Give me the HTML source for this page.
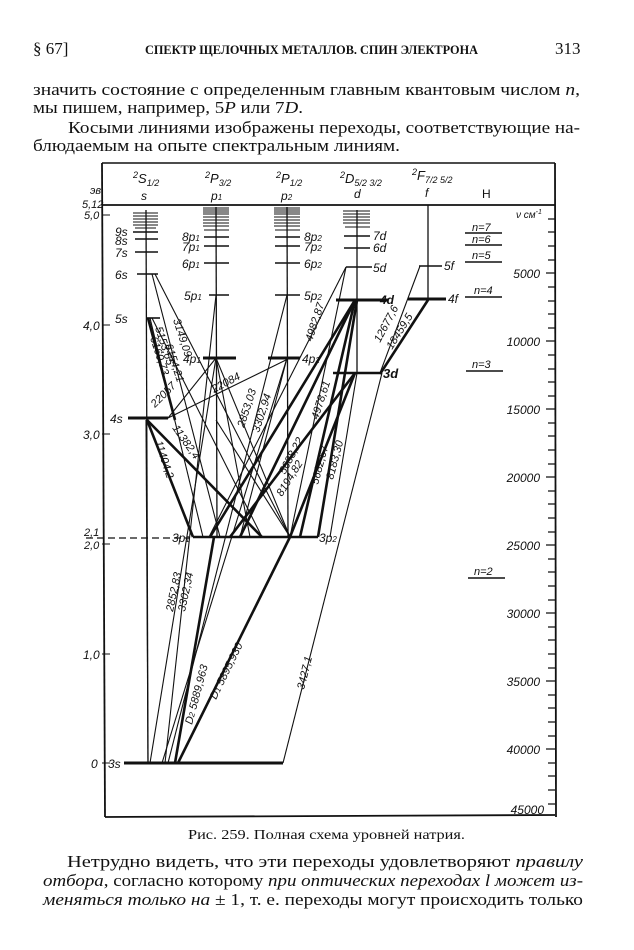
<!DOCTYPE html>
<html><head><meta charset="utf-8"><style>
html,body{margin:0;padding:0;background:#fff}
svg{display:block}
.t{font-family:"Liberation Serif",serif;fill:#111}
.d{font-family:"Liberation Sans",sans-serif;font-style:italic;fill:#111}
</style></head><body>
<svg width="634" height="950" viewBox="0 0 634 950" xmlns="http://www.w3.org/2000/svg">
<!-- page text -->
<text class="t" x="33" y="54" font-size="17">§ 67]</text>
<text class="t" x="145" y="54" font-size="12.5" font-weight="bold" textLength="333" lengthAdjust="spacingAndGlyphs">СПЕКТР ЩЕЛОЧНЫХ МЕТАЛЛОВ. СПИН ЭЛЕКТРОНА</text>
<text class="t" x="555" y="54" font-size="17">313</text>
<text class="t" x="33" y="95" font-size="17" textLength="547" lengthAdjust="spacingAndGlyphs">значить состояние с определенным главным квантовым числом <tspan font-style="italic">n</tspan>,</text>
<text class="t" x="33" y="113" font-size="17" textLength="270" lengthAdjust="spacingAndGlyphs">мы пишем, например, 5<tspan font-style="italic">P</tspan> или 7<tspan font-style="italic">D</tspan>.</text>
<text class="t" x="68" y="133" font-size="17" textLength="512" lengthAdjust="spacingAndGlyphs">Косыми линиями изображены переходы, соответствующие на-</text>
<text class="t" x="33" y="151" font-size="17" textLength="367" lengthAdjust="spacingAndGlyphs">блюдаемым на опыте спектральным линиям.</text>

<text class="t" x="188" y="839" font-size="13.5" textLength="277" lengthAdjust="spacingAndGlyphs">Рис. 259. Полная схема уровней натрия.</text>
<text class="t" x="67" y="867" font-size="17" textLength="516" lengthAdjust="spacingAndGlyphs">Нетрудно видеть, что эти переходы удовлетворяют <tspan font-style="italic">правилу</tspan></text>
<text class="t" x="43" y="886" font-size="17" textLength="540" lengthAdjust="spacingAndGlyphs"><tspan font-style="italic">отбора</tspan>, согласно которому <tspan font-style="italic">при оптических переходах l может из-</tspan></text>
<text class="t" x="43" y="905" font-size="17" textLength="540" lengthAdjust="spacingAndGlyphs"><tspan font-style="italic">меняться только на</tspan> ± 1, т. е. переходы могут происходить только</text>

<!-- frame -->
<g stroke="#111" fill="none">
<line x1="102" y1="163" x2="555" y2="163" stroke-width="1.5"/>
<line x1="102" y1="163" x2="105" y2="817" stroke-width="1.8"/>
<line x1="102" y1="205" x2="555" y2="205" stroke-width="1.8"/>
<line x1="105" y1="817" x2="555" y2="815" stroke-width="1.8"/>
<line x1="555" y1="163" x2="556" y2="817" stroke-width="1.8"/>
<line x1="102" y1="215" x2="110" y2="215"/>
<line x1="102" y1="325" x2="110" y2="325"/>
<line x1="102" y1="434" x2="110" y2="434"/>
<line x1="102" y1="544" x2="110" y2="544"/>
<line x1="102" y1="654" x2="110" y2="654"/>
<line x1="102" y1="763" x2="110" y2="763"/>
<line x1="86" y1="538" x2="190" y2="538" stroke-dasharray="7,4" stroke-width="1.3"/>
</g>
<g class="d" font-size="12">
<text x="90" y="194" font-size="11">эв</text>
<text x="82" y="208" font-size="11">5,12</text>
<text x="84" y="219" font-size="11">5,0</text>
<text x="83" y="330">4,0</text>
<text x="83" y="439">3,0</text>
<text x="84" y="536" font-size="11">2,1</text>
<text x="84" y="549" font-size="11">2,0</text>
<text x="83" y="659">1,0</text>
<text x="91" y="768">0</text>
</g>
<!-- column headers -->
<g class="d" font-size="13">
<text x="133" y="183"><tspan font-size="9" dy="-5">2</tspan><tspan dy="5">S</tspan><tspan font-size="9" dy="3">1/2</tspan></text>
<text x="141" y="200" font-size="12">s</text>
<text x="205" y="183"><tspan font-size="9" dy="-5">2</tspan><tspan dy="5">P</tspan><tspan font-size="9" dy="3">3/2</tspan></text>
<text x="211" y="200" font-size="12">p<tspan font-size="8">1</tspan></text>
<text x="276" y="183"><tspan font-size="9" dy="-5">2</tspan><tspan dy="5">P</tspan><tspan font-size="9" dy="3">1/2</tspan></text>
<text x="281" y="200" font-size="12">p<tspan font-size="8">2</tspan></text>
<text x="340" y="183"><tspan font-size="9" dy="-5">2</tspan><tspan dy="5">D</tspan><tspan font-size="9" dy="3">5/2 3/2</tspan></text>
<text x="354" y="198" font-size="12">d</text>
<text x="412" y="180"><tspan font-size="9" dy="-5">2</tspan><tspan dy="5">F</tspan><tspan font-size="9" dy="3">7/2 5/2</tspan></text>
<text x="425" y="197" font-size="12">f</text>
<text x="482" y="198" font-size="12" font-style="normal">H</text>
</g>

<g stroke="#111" fill="none" stroke-width="1.3">
<line x1="146" y1="210" x2="148" y2="763"/>
<line x1="216" y1="207" x2="217" y2="537"/>
<line x1="287" y1="207" x2="288" y2="537"/>
<line x1="357" y1="210" x2="357" y2="373"/>
<line x1="428" y1="205" x2="428" y2="299"/>
</g>
<g stroke="#111" stroke-width="1.1">
<path d="M133 213H158M133 216H158M133 219H158M133 222H158M133 225H158M135 228H156"/>
<path d="M203 208H229M203 210H229M203 212H229M203 214H229M203 217H229M203 220H229M203 223H229M203 226H229M204 230H229"/>
<path d="M274 208H300M274 210H300M274 212H300M274 214H300M274 217H300M274 220H300M274 223H300M274 226H300M275 230H300"/>
<path d="M343 211H370M343 214H370M343 217H370M343 220H370M343 223H370M345 227H370"/>
</g>
<g stroke="#111" stroke-width="1.6" fill="none">
<line x1="133" y1="232" x2="158" y2="232"/>
<line x1="135" y1="239" x2="158" y2="239"/>
<line x1="135" y1="252" x2="158" y2="252"/>
<line x1="137" y1="274" x2="158" y2="274"/>
<line x1="146" y1="318" x2="160" y2="318"/>
<line x1="204" y1="237" x2="229" y2="237"/>
<line x1="204" y1="246" x2="229" y2="246"/>
<line x1="204" y1="263" x2="229" y2="263"/>
<line x1="209" y1="295" x2="229" y2="295"/>
<line x1="275" y1="237" x2="300" y2="237"/>
<line x1="275" y1="246" x2="300" y2="246"/>
<line x1="275" y1="263" x2="300" y2="263"/>
<line x1="275" y1="295" x2="300" y2="295"/>
<line x1="344" y1="236" x2="370" y2="236"/>
<line x1="344" y1="248" x2="370" y2="248"/>
<line x1="346" y1="267" x2="372" y2="267"/>
<line x1="419" y1="266" x2="442" y2="266"/>
</g>
<g stroke="#111" stroke-width="3" fill="none">
<line x1="128" y1="418" x2="168" y2="418"/>
<line x1="203" y1="358" x2="236" y2="358"/>
<line x1="268" y1="358" x2="300" y2="358"/>
<line x1="336" y1="300" x2="388" y2="300"/>
<line x1="408" y1="299" x2="446" y2="299"/>
<line x1="333" y1="373" x2="381" y2="373" stroke-width="2.4"/>
<line x1="124" y1="763" x2="283" y2="763"/>
<line x1="193" y1="537" x2="318" y2="537" stroke-width="2.6"/>
</g>
<g stroke="#111" stroke-width="1.1" fill="none">
<line x1="150" y1="318" x2="203" y2="537"/>
<line x1="152" y1="318" x2="262" y2="537"/>
<line x1="152" y1="274" x2="220" y2="537"/>
<line x1="155" y1="274" x2="290" y2="537"/>
<line x1="168" y1="418" x2="216" y2="358"/>
<line x1="168" y1="418" x2="290" y2="358"/>
<line x1="148" y1="763" x2="146" y2="420"/>
<line x1="150" y1="763" x2="216" y2="358"/>
<line x1="162" y1="763" x2="287" y2="358"/>
<line x1="165" y1="763" x2="216" y2="295"/>
<line x1="168" y1="763" x2="287" y2="295"/>
<line x1="216" y1="358" x2="290" y2="537"/>
<line x1="216" y1="358" x2="250" y2="537"/>
<line x1="287" y1="358" x2="240" y2="537"/>
<line x1="209" y1="537" x2="346" y2="267"/>
<line x1="290" y1="537" x2="346" y2="267"/>
<line x1="290" y1="537" x2="216" y2="420"/>
<line x1="380" y1="373" x2="420" y2="266"/>
<line x1="283" y1="763" x2="382" y2="373"/>
<line x1="330" y1="537" x2="357" y2="373"/>
</g>
<g stroke="#111" stroke-width="2.6" fill="none">
<line x1="147" y1="420" x2="262" y2="537"/>
<line x1="147" y1="420" x2="193" y2="537"/>
<line x1="148" y1="318" x2="175" y2="420"/>
<line x1="178" y1="763" x2="290" y2="537"/>
<line x1="175" y1="763" x2="214" y2="537"/>
<line x1="210" y1="537" x2="355" y2="300"/>
<line x1="230" y1="537" x2="355" y2="373"/>
<line x1="290" y1="537" x2="355" y2="373"/>
<line x1="300" y1="537" x2="355" y2="300"/>
<line x1="318" y1="537" x2="357" y2="300"/>
<line x1="240" y1="537" x2="355" y2="300"/>
<line x1="380" y1="374" x2="428" y2="300"/>
</g>
<g class="d" font-size="12">
<text x="115" y="236">9s</text><text x="115" y="245">8s</text><text x="115" y="257">7s</text>
<text x="115" y="279">6s</text><text x="115" y="323">5s</text><text x="110" y="423">4s</text>
<text x="108" y="768">3s</text>
<text x="182" y="241">8p<tspan font-size="8">1</tspan></text><text x="182" y="251">7p<tspan font-size="8">1</tspan></text>
<text x="182" y="268">6p<tspan font-size="8">1</tspan></text><text x="184" y="300">5p<tspan font-size="8">1</tspan></text>
<text x="183" y="363">4p<tspan font-size="8">1</tspan></text>
<text x="172" y="542">3p<tspan font-size="8">1</tspan></text>
<text x="304" y="241">8p<tspan font-size="8">2</tspan></text><text x="304" y="251">7p<tspan font-size="8">2</tspan></text>
<text x="304" y="268">6p<tspan font-size="8">2</tspan></text><text x="304" y="300">5p<tspan font-size="8">2</tspan></text>
<text x="302" y="363">4p<tspan font-size="8">2</tspan></text>
<text x="319" y="542">3p<tspan font-size="8">2</tspan></text>
<text x="373" y="240">7d</text><text x="373" y="252">6d</text><text x="373" y="272">5d</text>
<text x="380" y="304" font-weight="bold">4d</text><text x="383" y="378" font-weight="bold" font-size="13">3d</text>
<text x="444" y="270">5f</text><text x="448" y="303">4f</text>
</g>
<g class="d" font-size="11">
<text transform="translate(155,328) rotate(72)">5153,65</text>
<text transform="translate(173,320) rotate(72)">3149,09</text>
<text transform="translate(150,338) rotate(72)">6160,73</text>
<text transform="translate(165,345) rotate(72)">6154,21</text>
<text transform="translate(155,408) rotate(-45)">22057</text>
<text transform="translate(214,393) rotate(-28)">22084</text>
<text transform="translate(172,428) rotate(55)">11382,4</text>
<text transform="translate(155,442) rotate(72)">11404,2</text>
<text transform="translate(244,428) rotate(-72)">2853,03</text>
<text transform="translate(259,433) rotate(-72)">3302,94</text>
<text transform="translate(312,342) rotate(-72)">4982,87</text>
<text transform="translate(318,420) rotate(-72)">4978,61</text>
<text transform="translate(285,475) rotate(-62)">5688,22</text>
<text transform="translate(282,497) rotate(-58)">8194,82</text>
<text transform="translate(318,485) rotate(-75)">5682,67</text>
<text transform="translate(333,480) rotate(-75)">8183,30</text>
<text transform="translate(380,343) rotate(-62)">12677,6</text>
<text transform="translate(392,350) rotate(-58)">18459,5</text>
<text transform="translate(173,612) rotate(-78)">2852,83</text>
<text transform="translate(185,612) rotate(-78)">3302,34</text>
<text transform="translate(192,725) rotate(-75)">D<tspan font-size="8">2</tspan> 5889,963</text>
<text transform="translate(216,700) rotate(-64)">D<tspan font-size="8">1</tspan> 5895,930</text>
<text transform="translate(304,690) rotate(-76)">3427,1</text>
</g>
<g stroke="#111" stroke-width="1.6">
<line x1="465" y1="233" x2="502" y2="233"/>
<line x1="465" y1="245" x2="502" y2="245"/>
<line x1="465" y1="262" x2="502" y2="262"/>
<line x1="465" y1="297" x2="502" y2="297"/>
<line x1="466" y1="371" x2="503" y2="371"/>
<line x1="468" y1="578" x2="505" y2="578"/>
</g>
<g class="d" font-size="11">
<text x="472" y="231">n=7</text><text x="472" y="243">n=6</text><text x="472" y="259">n=5</text>
<text x="474" y="294">n=4</text><text x="472" y="368">n=3</text><text x="474" y="575">n=2</text>
</g>
<g stroke="#111" stroke-width="1.2">
<path d="M548 219H555M548 232H555M548 246H555M548 260H555M546 273H555M548 287H555M548 301H555M548 314H555M548 328H555M546 341H555M548 355H555M548 369H555M548 382H555M548 396H555M546 409H555M548 423H555M548 436H555M548 450H555M548 464H555M546 477H555M548 491H555M548 504H555M548 518H555M548 532H555M546 545H555M548 559H555M548 572H555M548 586H555M548 600H555M546 613H555M548 627H555M548 640H555M548 654H555M548 668H555M546 681H555M548 695H555M548 708H555M548 722H555M548 736H555M546 749H555M548 763H555M548 776H555M548 790H555M548 804H555"/>
</g>
<g class="d" font-size="12">
<text x="516" y="218" font-size="10">ν см<tspan font-size="7" dy="-4">-1</tspan></text>
<text x="540" y="278" text-anchor="end">5000</text>
<text x="540" y="346" text-anchor="end">10000</text>
<text x="540" y="414" text-anchor="end">15000</text>
<text x="540" y="482" text-anchor="end">20000</text>
<text x="540" y="550" text-anchor="end">25000</text>
<text x="540" y="618" text-anchor="end">30000</text>
<text x="540" y="686" text-anchor="end">35000</text>
<text x="540" y="754" text-anchor="end">40000</text>
<text x="544" y="814" text-anchor="end">45000</text>
</g>
</svg>
</body></html>
